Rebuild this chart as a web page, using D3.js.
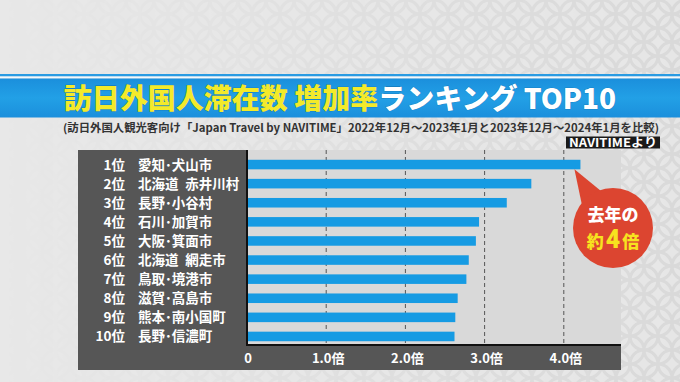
<!DOCTYPE html>
<html>
<head>
<meta charset="utf-8">
<script src="https://cdn.jsdelivr.net/npm/d3@7"></script>
<style>
  html, body { margin: 0; padding: 0; background: #e4e4e4; }
  svg { display: block; font-family: "Noto Sans CJK JP", "Noto Sans", sans-serif; }
</style>
</head>
<body>
<div id="chart"></div>
<script>
const width = 680, height = 382;

// ranking data
const ranks = ["1位", "2位", "3位", "4位", "5位", "6位", "7位", "8位", "9位", "10位"];
const places = ["愛知･犬山市", "北海道\u2002赤井川村", "長野･小谷村", "石川･加賀市", "大阪･箕面市",
                "北海道\u2002網走市", "鳥取･境港市", "滋賀･高島市", "熊本･南小国町", "長野･信濃町"];
const values = [4.21, 3.59, 3.28, 2.93, 2.89, 2.80, 2.77, 2.66, 2.63, 2.62];
const ticks = [0, 1, 2, 3, 4];
const tickLabels = ["0", "1.0倍", "2.0倍", "3.0倍", "4.0倍"];

const svg = d3.select('#chart')
    .append('svg')
      .attr('width', width)
      .attr('height', height);

const defs = svg.append('defs');

// shippo-ish background pattern
const pat = defs.append('pattern')
    .attr('id', 'bgpat')
    .attr('width', 28).attr('height', 28)
    .attr('patternUnits', 'userSpaceOnUse');
pat.append('rect').attr('width', 28).attr('height', 28).attr('fill', '#e6e6e6');
[[0, 0], [28, 0], [0, 28], [28, 28], [14, 14]].forEach(c => {
    pat.append('circle').attr('cx', c[0]).attr('cy', c[1]).attr('r', 14)
       .attr('fill', 'none').attr('stroke', '#d9d9d9').attr('stroke-width', 3);
});

const fade = defs.append('linearGradient').attr('id', 'fade');
fade.append('stop').attr('offset', '0%').attr('stop-color', '#fff').attr('stop-opacity', 0);
fade.append('stop').attr('offset', '55%').attr('stop-color', '#fff').attr('stop-opacity', 0.6);
fade.append('stop').attr('offset', '100%').attr('stop-color', '#fff').attr('stop-opacity', 1);
defs.append('mask').attr('id', 'fademask')
  .append('rect').attr('width', width).attr('height', height).attr('fill', 'url(#fade)');

const band = defs.append('linearGradient').attr('id', 'band').attr('x1', 0).attr('x2', 0).attr('y1', 0).attr('y2', 1);
band.append('stop').attr('offset', '0%').attr('stop-color', '#1b8fdc');
band.append('stop').attr('offset', '50%').attr('stop-color', '#22a0e6');
band.append('stop').attr('offset', '100%').attr('stop-color', '#1b8fdc');

svg.append('rect').attr('width', width).attr('height', height).attr('fill', '#e8e8e8');
svg.append('rect').attr('width', width).attr('height', height)
    .attr('fill', 'url(#bgpat)').attr('mask', 'url(#fademask)');

// title band
svg.append('rect').attr('x', 0).attr('y', 74).attr('width', width).attr('height', 2.5).attr('fill', '#2a9be2');
svg.append('rect').attr('x', 0).attr('y', 76.5).attr('width', width).attr('height', 2).attr('fill', '#f4f8fb');
svg.append('rect').attr('x', 0).attr('y', 78.5).attr('width', width).attr('height', 39).attr('fill', 'url(#band)');

const title = svg.append('text')
    .attr('x', 340).attr('y', 109)
    .attr('text-anchor', 'middle')
    .attr('font-size', 28).attr('font-weight', 900)
    .attr('stroke', '#0f6fb0').attr('stroke-width', 0.6).attr('paint-order', 'stroke');
title.append('tspan').attr('fill', '#f3ea2a').text('訪日外国人滞在数 増加率');
title.append('tspan').attr('fill', '#ffffff').text('ランキング TOP10');

svg.append('text')
    .attr('x', 361).attr('y', 131.5)
    .attr('text-anchor', 'middle')
    .attr('font-size', 11).attr('font-weight', 700)
    .attr('fill', '#333')
    .attr('textLength', 596).attr('lengthAdjust', 'spacingAndGlyphs')
    .text('(訪日外国人観光客向け「Japan Travel by NAVITIME」2022年12月～2023年1月と2023年12月～2024年1月を比較)');

svg.append('rect').attr('x', 566).attr('y', 136.5).attr('width', 94).attr('height', 12).attr('fill', '#1a1a1a');
svg.append('text')
    .attr('x', 613).attr('y', 147)
    .attr('text-anchor', 'middle')
    .attr('font-size', 12).attr('font-weight', 700)
    .attr('fill', '#fff')
    .attr('textLength', 88).attr('lengthAdjust', 'spacingAndGlyphs')
    .text('NAVITIMEより');

// chart panel
const plotLeft = 247, plotRight = 621, plotTop = 150, plotBottom = 345;

svg.append('rect')
    .attr('x', 78).attr('y', plotTop).attr('width', plotRight - 78).attr('height', 370 - plotTop)
    .attr('fill', '#565656');
svg.append('rect')
    .attr('x', plotLeft).attr('y', plotTop).attr('width', plotRight - plotLeft).attr('height', plotBottom - plotTop)
    .attr('fill', '#d9d9d9');

const x = d3.scaleLinear().domain([0, 1]).range([plotLeft, plotLeft + 79.2]);
const y = d3.scaleBand().domain(ranks).range([155, 346]).paddingInner(0.5).paddingOuter(0.25);

// dashed grid
svg.append('g')
  .selectAll('line')
  .data(ticks.filter(t => t > 0))
  .enter()
  .append('line')
    .attr('x1', d => x(d)).attr('x2', d => x(d))
    .attr('y1', plotTop).attr('y2', plotBottom)
    .attr('stroke', '#555').attr('stroke-width', 1)
    .attr('stroke-dasharray', '4,3');

// bars
svg.append('g')
  .selectAll('rect')
  .data(values)
  .enter()
  .append('rect')
    .attr('x', x(0))
    .attr('y', (d, i) => y(ranks[i]))
    .attr('width', d => x(d) - x(0))
    .attr('height', y.bandwidth())
    .attr('fill', '#169be3');

// axis lines
svg.append('line').attr('x1', plotLeft).attr('x2', plotLeft).attr('y1', plotTop).attr('y2', plotBottom + 1)
    .attr('stroke', '#111').attr('stroke-width', 2);
svg.append('line').attr('x1', plotLeft).attr('x2', plotRight).attr('y1', plotBottom).attr('y2', plotBottom)
    .attr('stroke', '#111').attr('stroke-width', 2);

// tick labels
svg.append('g')
  .selectAll('text')
  .data(ticks)
  .enter()
  .append('text')
    .attr('x', d => x(d) + (d === 0 ? 1 : 2))
    .attr('y', 363)
    .attr('text-anchor', 'middle')
    .attr('font-size', 13).attr('font-weight', 700)
    .attr('fill', '#fff')
    .text((d, i) => tickLabels[i]);

// row labels
const rows = svg.append('g')
  .selectAll('g')
  .data(ranks)
  .enter()
  .append('g');
rows.append('text')
    .attr('x', 125)
    .attr('y', d => y(d) + y.bandwidth() / 2 + 5)
    .attr('text-anchor', 'end')
    .attr('font-size', 13.5).attr('font-weight', 700)
    .attr('fill', '#fff')
    .text(d => d);
rows.append('text')
    .attr('x', 138)
    .attr('y', d => y(d) + y.bandwidth() / 2 + 5)
    .attr('font-size', 13.5).attr('font-weight', 700)
    .attr('fill', '#fff')
    .text((d, i) => places[i]);

// callout
const tipX = x(values[0]) - 6, tipY = y(ranks[0]) + y.bandwidth();
const cx = 613, cy = 228, r = 40;
svg.append('path')
    .attr('d', `M${tipX},${tipY} L${583},${210} L${601},${191} Z`)
    .attr('fill', '#dc4530');
svg.append('circle').attr('cx', cx).attr('cy', cy).attr('r', r).attr('fill', '#dc4530');
svg.append('text')
    .attr('x', cx).attr('y', cy - 7)
    .attr('text-anchor', 'middle')
    .attr('font-size', 17).attr('font-weight', 900)
    .attr('fill', '#fff')
    .text('去年の');
const t2 = svg.append('text')
    .attr('x', cx).attr('y', cy + 20)
    .attr('text-anchor', 'middle')
    .attr('font-weight', 900)
    .attr('fill', '#f7e21f');
t2.append('tspan').attr('font-size', 17).text('約');
t2.append('tspan').attr('font-size', 25).attr('font-family', 'Roboto, sans-serif').attr('dx', 2).text('4');
t2.append('tspan').attr('font-size', 17).attr('dx', 2).text('倍');
</script>
</body>
</html>
